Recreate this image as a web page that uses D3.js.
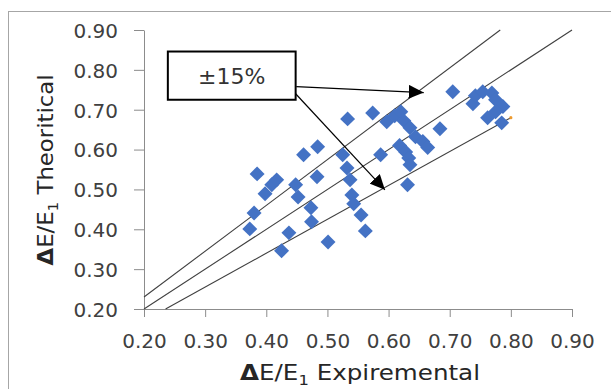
<!DOCTYPE html>
<html>
<head>
<meta charset="utf-8">
<script src="https://cdn.jsdelivr.net/npm/d3@7"></script>
<style>
  body { margin: 0; background: #fff; }
  svg { display: block; }
  text { font-family: "DejaVu Sans", sans-serif; }
</style>
</head>
<body>
<svg id="chart" width="611" height="389"></svg>
<script>
const expVals = [0.373, 0.380, 0.385, 0.398, 0.409, 0.417, 0.425, 0.437, 0.448, 0.452,
  0.461, 0.484, 0.483, 0.473, 0.474, 0.501, 0.525, 0.532, 0.537, 0.540,
  0.543, 0.555, 0.562, 0.533, 0.574, 0.587, 0.597, 0.610, 0.620, 0.625,
  0.635, 0.644, 0.656, 0.664, 0.684, 0.618, 0.628, 0.633, 0.635, 0.631,
  0.705, 0.738, 0.742, 0.754, 0.769, 0.775, 0.787, 0.775, 0.762, 0.785]
const theoVals = [0.401, 0.441, 0.539, 0.489, 0.512, 0.524, 0.346, 0.391, 0.512, 0.481,
  0.587, 0.607, 0.532, 0.454, 0.419, 0.368, 0.587, 0.554, 0.524, 0.486,
  0.464, 0.436, 0.396, 0.677, 0.692, 0.587, 0.670, 0.685, 0.695, 0.672,
  0.655, 0.632, 0.620, 0.605, 0.652, 0.610, 0.594, 0.579, 0.562, 0.512,
  0.745, 0.715, 0.735, 0.745, 0.742, 0.725, 0.708, 0.695, 0.680, 0.667]

const xTicks = [0.2, 0.3, 0.4, 0.5, 0.6, 0.7, 0.8, 0.9]
const yTicks = [0.2, 0.3, 0.4, 0.5, 0.6, 0.7, 0.8, 0.9]

// ±15% band lines: slope and where each one stops on x
const bandFactors = [1.15, 1, 0.85]
const bandEndX = [0.9, 0.9, 0.8]

// Callout box and its two arrows, in data units
const calloutBox = [0.239, 0.846, 0.448, 0.725]
const calloutLabel = '±15%'
const arrowStarts = [[0.449, 0.758], [0.448, 0.740]]
const arrowEnds = [[0.6575, 0.743], [0.594, 0.499]]

const svg = d3.select('#chart')

// outer chart frame
svg.append('rect')
  .attr('x', 8.5).attr('y', 11.5)
  .attr('width', 700).attr('height', 500)
  .attr('fill', 'none').attr('stroke', '#a6a6a6')

const x = d3.scaleLinear().domain([0.2, 0.9]).range([144, 572])
const y = d3.scaleLinear().domain([0.2, 0.9]).range([309, 30])

const axisColor = '#8c8c8c'
const labelColor = '#404040'

// Y axis
const gy = svg.append('g')
  .attr('transform', `translate(${x(0.2)},0)`)
  .call(d3.axisLeft(y).tickValues(yTicks).tickFormat(d3.format('.2f'))
    .tickSize(10).tickSizeOuter(0).tickPadding(16))
// X axis
const gx = svg.append('g')
  .attr('transform', `translate(0,${y(0.2)})`)
  .call(d3.axisBottom(x).tickValues(xTicks).tickFormat(d3.format('.2f'))
    .tickSize(8).tickSizeOuter(0).tickPadding(17))

;[gx, gy].forEach(g => {
  g.select('.domain').attr('stroke', axisColor)
  g.selectAll('.tick line').attr('stroke', axisColor)
  g.selectAll('.tick text')
    .attr('fill', labelColor)
    .style('font-family', '"DejaVu Sans", sans-serif')
    .style('font-size', '20px')
})
gy.selectAll('.tick text').attr('dy', '0.37em')

// band lines
const lineCol = '#404040'
bandFactors.forEach((f, i) => {
  const x0 = Math.max(0.2, 0.2 / f)
  const x1 = Math.min(bandEndX[i], 0.9 / f)
  svg.append('line')
    .attr('x1', x(x0)).attr('y1', y(x0 * f))
    .attr('x2', x(x1)).attr('y2', y(x1 * f))
    .attr('stroke', lineCol).attr('stroke-width', 1.1)
})

// data points (diamonds)
const pts = expVals.map((v, i) => [v, theoVals[i]])
svg.append('g').selectAll('path')
  .data(pts)
  .join('path')
  .attr('d', d3.symbol(d3.symbolSquare, 112))
  .attr('transform', d => `translate(${x(d[0])},${y(d[1])}) rotate(45)`)
  .attr('fill', '#4472c4')

// tiny marker left at the end of the lower band line
const li = bandFactors.length - 1
svg.append('circle')
  .attr('cx', x(bandEndX[li])).attr('cy', y(bandEndX[li] * bandFactors[li]))
  .attr('r', 1.6).attr('fill', '#ed9a2f')

// arrow head marker
svg.append('defs').append('marker')
  .attr('id', 'head')
  .attr('markerUnits', 'userSpaceOnUse')
  .attr('markerWidth', 16).attr('markerHeight', 14)
  .attr('refX', 15).attr('refY', 7)
  .attr('orient', 'auto')
  .append('path')
  .attr('d', 'M0,0L15,7L0,14Z')
  .attr('fill', '#000')

// callout box
svg.append('rect')
  .attr('x', x(calloutBox[0])).attr('y', y(calloutBox[1]))
  .attr('width', x(calloutBox[2]) - x(calloutBox[0]))
  .attr('height', y(calloutBox[3]) - y(calloutBox[1]))
  .attr('fill', '#fff').attr('stroke', '#000').attr('stroke-width', 2)

svg.append('text')
  .attr('x', (x(calloutBox[0]) + x(calloutBox[2])) / 2)
  .attr('y', (y(calloutBox[1]) + y(calloutBox[3])) / 2)
  .attr('dy', '0.36em')
  .attr('text-anchor', 'middle')
  .attr('fill', '#333')
  .style('font-size', '22px')
  .text(calloutLabel)

// arrows
arrowStarts.forEach((s, i) => {
  svg.append('line')
    .attr('x1', x(s[0])).attr('y1', y(s[1]))
    .attr('x2', x(arrowEnds[i][0])).attr('y2', y(arrowEnds[i][1]))
    .attr('stroke', '#000').attr('stroke-width', 1.2)
    .attr('marker-end', 'url(#head)')
})

// axis titles
const addTitle = (txt, tx, ty, rot, len) => {
  const t = svg.append('text')
    .attr('transform', `translate(${tx},${ty}) rotate(${rot})`)
    .attr('text-anchor', 'middle')
    .attr('fill', '#262626')
    .attr('textLength', len)
    .attr('lengthAdjust', 'spacingAndGlyphs')
    .style('font-size', '21px')
  t.append('tspan').style('font-weight', 'bold').text('Δ')
  t.append('tspan').text('E/E')
  t.append('tspan').attr('dy', 5).style('font-size', '14px').text('1')
  t.append('tspan').attr('dy', -5).text(' ' + txt)
}
addTitle('Expiremental', 360, 380, 0, 240)
addTitle('Theoritical', 53, 170, -90, 191)
</script>
</body>
</html>
